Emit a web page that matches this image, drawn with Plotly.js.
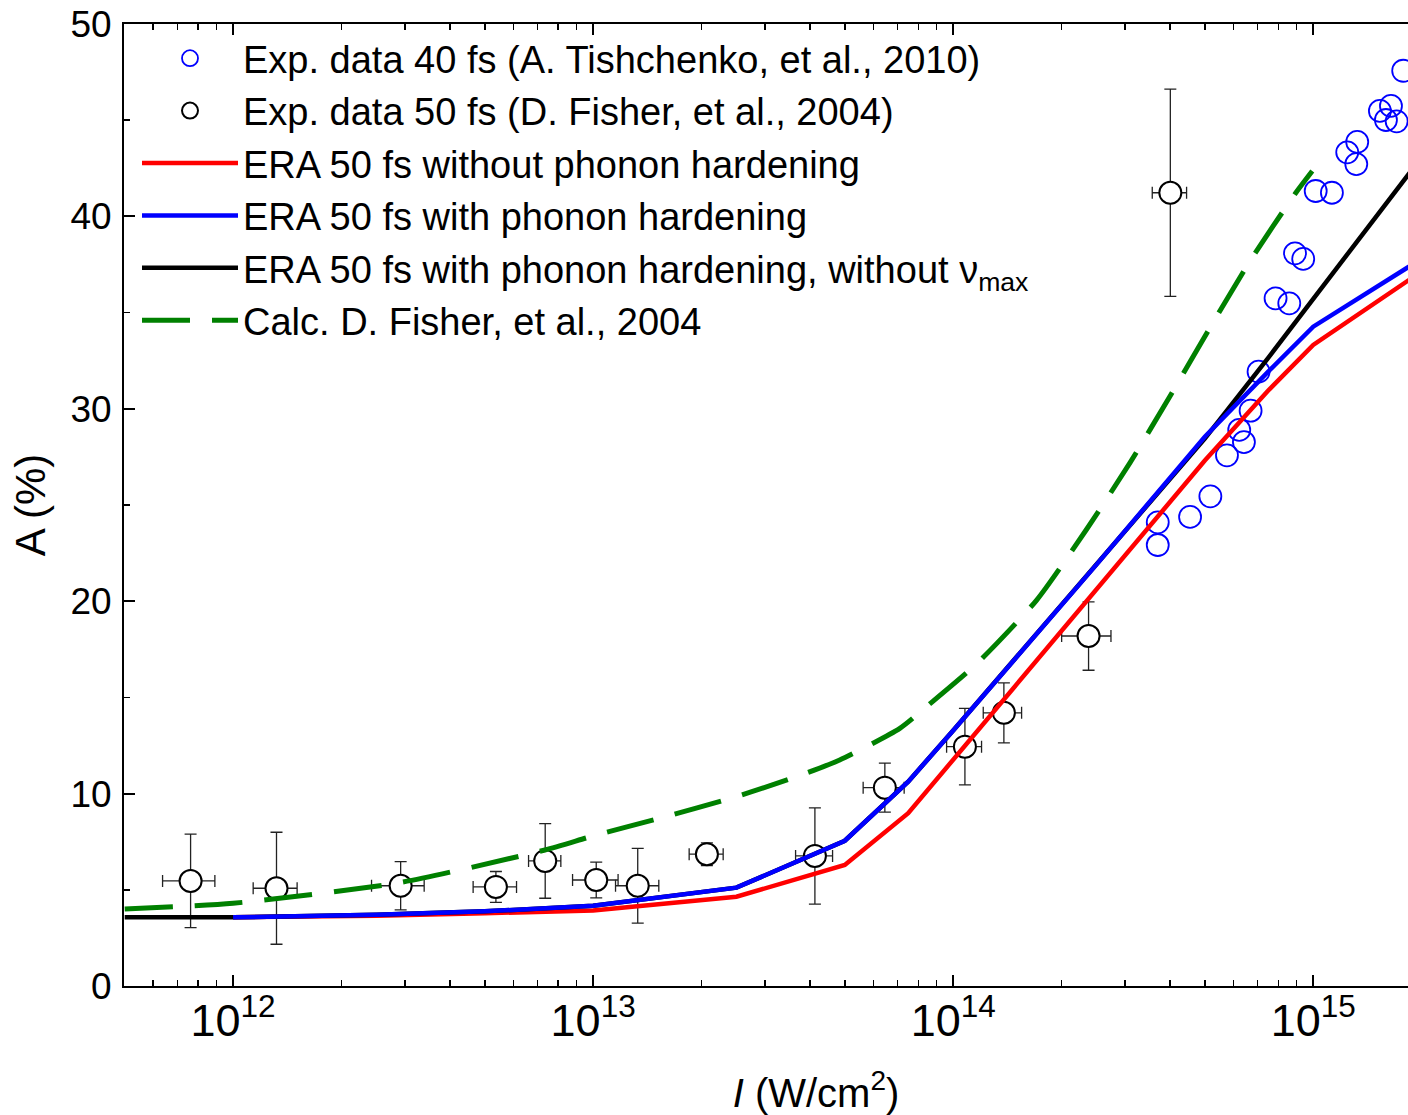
<!DOCTYPE html>
<html>
<head>
<meta charset="utf-8">
<script src="https://cdn.plot.ly/plotly-3.0.1.min.js"></script>
<style>
html,body{margin:0;padding:0;overflow:hidden;background:#fff;width:1408px;height:1115px;}
#chart{width:1508px;height:1115px;}
</style>
</head>
<body>
<div id="chart"></div>
<script>
// ---- Exp. data 40 fs (A. Tishchenko, et al., 2010) ----
const tishX = [3.70e14, 3.70e14, 4.55e14, 5.18e14, 5.76e14, 6.23e14, 6.42e14, 6.70e14, 7.05e14,
               7.86e14, 8.58e14, 8.90e14, 9.38e14, 1.016e15, 1.127e15, 1.243e15, 1.325e15, 1.317e15,
               1.532e15, 1.644e15, 1.592e15, 1.705e15, 1.778e15];
const tishA = [24.10, 22.92, 24.38, 25.45, 27.58, 28.90, 28.27, 29.90, 31.93,
               35.74, 35.48, 38.08, 37.79, 41.32, 41.23, 43.33, 43.87, 42.72,
               45.48, 45.74, 45.01, 44.94, 47.57];

// ---- Exp. data 50 fs (D. Fisher, et al., 2004) ----
const fishX    = [7.62e11, 1.32e12, 2.92e12, 5.37e12, 7.36e12, 1.02e13, 1.33e13, 2.07e13, 4.13e13,
                  6.46e13, 1.078e14, 1.383e14, 2.377e14, 4.01e14];
const fishA    = [5.46, 5.08, 5.21, 5.15, 6.50, 5.51, 5.21, 6.85, 6.76, 10.31, 12.44, 14.20, 18.19, 41.23];
const fishAErr = [2.43, 2.91, 1.25, 0.80, 1.94, 0.93, 1.94, 0.59, 2.50, 1.27, 1.99, 1.56, 1.78, 5.39];
const fishXLo  = [6.37e11, 1.137e12, 2.424e12, 4.642e12, 6.617e12, 8.767e12, 1.154e13, 1.848e13, 3.650e13,
                  5.623e13, 9.588e13, 1.212e14, 2.001e14, 3.572e14];
const fishXHi  = [8.90e11, 1.506e12, 3.394e12, 6.127e12, 8.134e12, 1.173e13, 1.522e13, 2.297e13, 4.624e13,
                  7.309e13, 1.199e14, 1.549e14, 2.743e14, 4.449e14];

// ---- ERA 50 fs without phonon hardening ----
const eraNoHardX = [1e12, 2.5e12, 5e12, 1e13, 2.5e13, 5e13, 7.5e13, 1e14, 2.5e14, 5e14, 7.5e14, 1e15, 2e15];
const eraNoHardA = [3.57, 3.65, 3.78, 3.93, 4.64, 6.29, 8.98, 11.75, 20.61, 27.31, 30.95, 33.32, 37.14];

// ---- ERA 50 fs with phonon hardening ----
const eraHardX = [1e12, 2.5e12, 5e12, 1e13, 2.5e13, 5e13, 7.5e13, 1e14, 2.5e14, 5e14, 7.5e14, 1e15, 2e15];
const eraHardA = [3.57, 3.70, 3.88, 4.17, 5.11, 7.55, 10.62, 13.28, 21.90, 28.55, 31.93, 34.27, 37.80];

// ---- ERA 50 fs with phonon hardening, without nu_max ----
const eraNoMaxX = [5e11, 1e12, 2.5e12, 5e12, 1e13, 2.5e13, 5e13, 7.5e13, 1e14, 2.5e14, 5e14, 7.5e14, 1e15, 2e15];
const eraNoMaxA = [3.57, 3.57, 3.70, 3.88, 4.17, 5.11, 7.55, 10.62, 13.28, 21.90, 28.45, 32.65, 35.72, 43.08];

// ---- Calc. D. Fisher, et al., 2004 ----
const calcX = [5.0e11, 1e12, 2.9e12, 7.35e12, 1e13, 1.53e13, 2.5e13, 3.67e13, 4.84e13, 7.11e13, 8.61e13,
               1.161e14, 1.706e14, 2.348e14, 3.1e14, 4.02e14, 5.17e14, 6.7e14, 8.95e14, 9.94e14];
const calcA = [4.0, 4.3, 5.37, 7.07, 7.80, 8.72, 9.84, 10.88, 11.75, 13.39, 14.66,
               16.74, 20.06, 23.74, 27.2, 30.72, 34.22, 37.73, 41.23, 42.36];

const legendNames = [
  'Exp. data 40 fs (A. Tishchenko, et al., 2010)',
  'Exp. data 50 fs (D. Fisher, et al., 2004)',
  'ERA 50 fs without phonon hardening',
  'ERA 50 fs with phonon hardening',
  'ERA 50 fs with phonon hardening, without \u03BD<sub>max</sub>',
  'Calc. D. Fisher, et al., 2004'
];

const FONT = 'Arial, "Liberation Sans", Helvetica, sans-serif';

const xPlus  = fishX.map((v, i) => fishXHi[i] - v);
const xMinus = fishX.map((v, i) => v - fishXLo[i]);

const traces = [
  {
    x: fishX, y: fishA, type: 'scatter', mode: 'markers', name: legendNames[1], legendrank: 2,
    marker: {symbol: 'circle', size: 22, color: '#ffffff', line: {color: '#000000', width: 2}},
    error_y: {type: 'data', array: fishAErr, visible: true, color: '#222222', thickness: 1.3, width: 6},
    error_x: {type: 'data', symmetric: false, array: xPlus, arrayminus: xMinus, visible: true,
              color: '#222222', thickness: 1.3, width: 6}
  },
  {
    x: tishX, y: tishA, type: 'scatter', mode: 'markers', name: legendNames[0], legendrank: 1,
    marker: {symbol: 'circle-open', size: 22, color: '#0000ff', line: {color: '#0000ff', width: 1.8}}
  },
  {
    x: eraNoHardX, y: eraNoHardA, type: 'scatter', mode: 'lines', name: legendNames[2], legendrank: 3,
    line: {color: '#ff0000', width: 4.5}
  },
  {
    x: eraNoMaxX, y: eraNoMaxA, type: 'scatter', mode: 'lines', name: legendNames[4], legendrank: 5,
    line: {color: '#000000', width: 4.5}
  },
  {
    x: eraHardX, y: eraHardA, type: 'scatter', mode: 'lines', name: legendNames[3], legendrank: 4,
    line: {color: '#0000ff', width: 4.5}
  },
  {
    x: calcX, y: calcA, type: 'scatter', mode: 'lines', name: legendNames[5], legendrank: 6,
    line: {color: '#008000', width: 5, dash: '48px,22px', shape: 'spline', smoothing: 0.6}
  }
];

const W = 1508, H = 1115, ML = 124, MT = 24, MB = 129, MR = 0;
const PW = W - ML - MR, PH = H - MT - MB;

const layout = {
  width: W, height: H,
  margin: {l: ML, r: MR, t: MT, b: MB, pad: 0},
  paper_bgcolor: '#ffffff', plot_bgcolor: '#ffffff',
  font: {family: FONT, color: '#000000', size: 36},
  showlegend: true,
  legend: {
    x: (137 - ML) / PW, y: 1 - (27 - MT) / PH, xanchor: 'left', yanchor: 'top',
    bgcolor: 'rgba(0,0,0,0)', borderwidth: 0,
    font: {family: FONT, size: 38, color: '#000000'},
    itemwidth: 96, tracegroupgap: 0, traceorder: 'normal'
  },
  xaxis: {
    type: 'log', range: [11.697, 15.541],
    dtick: 1, exponentformat: 'power',
    showgrid: false, zeroline: false,
    showline: true, linecolor: '#000000', linewidth: 2, mirror: 'ticks',
    ticks: 'inside', ticklen: 11, tickwidth: 2, tickcolor: '#000000',
    ticklabelstandoff: -4,
    tickfont: {family: FONT, size: 36, color: '#000000'},
    minor: {ticks: 'inside', ticklen: 6, tickwidth: 1.5, tickcolor: '#000000', dtick: 'D1', showgrid: false},
    title: {text: '<i>I</i> (W/cm<sup>2</sup>)', font: {family: FONT, size: 40, color: '#000000'}, standoff: 34}
  },
  yaxis: {
    range: [0, 50], dtick: 10, tick0: 0,
    showgrid: false, zeroline: false,
    showline: true, linecolor: '#000000', linewidth: 2, mirror: 'ticks',
    ticks: 'inside', ticklen: 11, tickwidth: 2, tickcolor: '#000000',
    ticklabelstandoff: 3,
    tickfont: {family: FONT, size: 37, color: '#000000'},
    minor: {ticks: 'inside', ticklen: 6, tickwidth: 1.5, tickcolor: '#000000', dtick: 5, showgrid: false},
    title: {text: 'A (%)', font: {family: FONT, size: 42, color: '#000000'}, standoff: 12}
  }
};

Plotly.newPlot('chart', traces, layout, {displayModeBar: false, responsive: false, staticPlot: true});
</script>
</body>
</html>
